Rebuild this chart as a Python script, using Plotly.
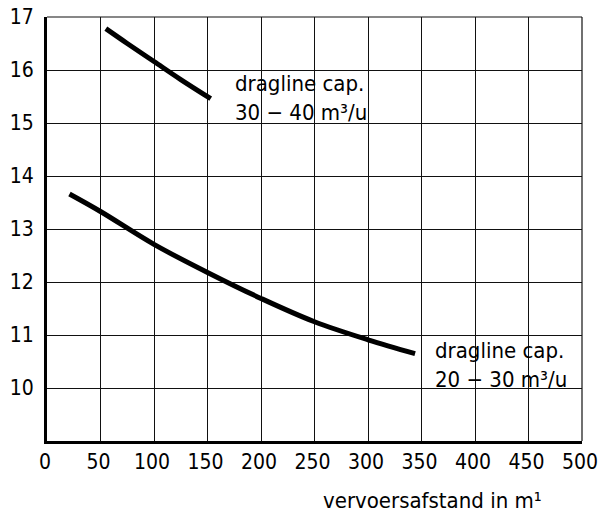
import plotly.graph_objects as go

# Data
upper_x = [55, 75, 100, 125, 153]
upper_y = [16.78, 16.50, 16.16, 15.82, 15.46]
lower_x = [21, 50, 100, 150, 200, 250, 300, 344]
lower_y = [13.66, 13.33, 12.71, 12.18, 11.69, 11.25, 10.91, 10.65]

x_ticks = [0, 50, 100, 150, 200, 250, 300, 350, 400, 450, 500]
y_ticks = [10, 11, 12, 13, 14, 15, 16, 17]

upper_label = "dragline cap.<br>30 − 40 m³/u"
lower_label = "dragline cap.<br>20 − 30 m³/u"
x_title = "vervoersafstand in m¹"

FONT = "DejaVu Sans Condensed, Liberation Sans Narrow, DejaVu Sans, sans-serif"
FS = 21
FA = 22

fig = go.Figure()
fig.add_trace(go.Scatter(x=upper_x, y=upper_y, mode="lines", line=dict(color="black", width=5, shape="spline"), showlegend=False))
fig.add_trace(go.Scatter(x=lower_x, y=lower_y, mode="lines", line=dict(color="black", width=5, shape="spline"), showlegend=False))

fig.add_annotation(x=174, y=15.47, xref="x", yref="y", text=upper_label, showarrow=False,
                   xanchor="left", yanchor="middle", align="left",
                   font=dict(family=FONT, size=FA, color="black"))
fig.add_annotation(x=361, y=10.44, xref="x", yref="y", text=lower_label, showarrow=False,
                   xanchor="left", yanchor="middle", align="left",
                   font=dict(family=FONT, size=FA, color="black"))
fig.add_annotation(x=0.72, y=-0.14, xref="paper", yref="paper", text=x_title, showarrow=False,
                   xanchor="center", yanchor="middle",
                   font=dict(family=FONT, size=FA, color="black"))

# thin frame on the top and right edges of the plot area
fig.add_shape(type="line", xref="paper", yref="paper", x0=0, x1=1, y0=1, y1=1,
              line=dict(color="#111", width=1.2), layer="below")
fig.add_shape(type="line", xref="paper", yref="paper", x0=1, x1=1, y0=0, y1=1,
              line=dict(color="#111", width=1.2), layer="below")

fig.update_xaxes(range=[0, 500], tickvals=x_ticks, ticktext=[str(v) for v in x_ticks],
                 showgrid=True, gridcolor="#111", gridwidth=1.2,
                 showline=True, linecolor="black", linewidth=3,
                 ticks="", zeroline=False, automargin=False, ticklabeloverflow="allow",
                 ticklabelshift=-2,
                 tickfont=dict(family=FONT, size=FS, color="black"))
fig.update_yaxes(range=[9, 17], tickvals=y_ticks, ticktext=[str(v) for v in y_ticks],
                 showgrid=True, gridcolor="#111", gridwidth=1.2,
                 showline=True, linecolor="black", linewidth=3,
                 ticks="", zeroline=False, ticklabelstandoff=6, automargin=False,
                 ticklabeloverflow="allow",
                 tickfont=dict(family=FONT, size=FS, color="black"))

fig.update_layout(width=599, height=512,
                  margin=dict(l=47, r=17, t=17, b=71),
                  paper_bgcolor="white", plot_bgcolor="white")

fig.write_html("out.html",
               config={"displayModeBar": False},
               post_script="document.body.style.margin='0';document.body.style.overflow='hidden';")
